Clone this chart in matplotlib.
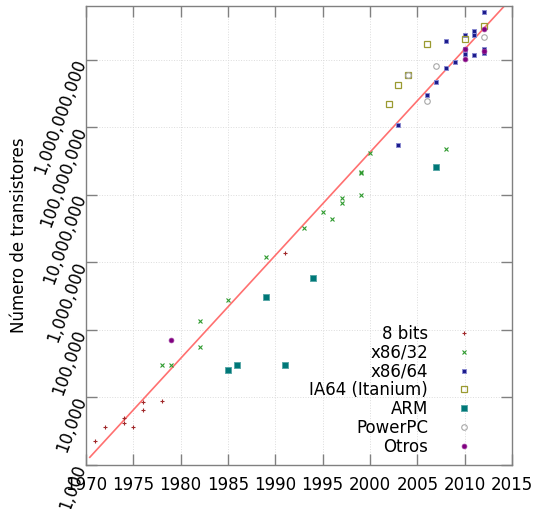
import matplotlib
matplotlib.use("Agg")
import matplotlib.pyplot as plt
from matplotlib.ticker import FixedLocator, FixedFormatter

# ---- data ------------------------------------------------------------------------
bits8_year = [1971, 1972, 1974, 1974, 1975, 1976, 1976, 1978, 1991]
bits8_n = [2300, 3600, 5000, 4200, 3600, 8700, 6600, 9000, 1380000]

x86_32_year = [1978, 1979, 1982, 1982, 1985, 1989, 1993, 1995, 1996, 1997, 1997,
               1999, 1999, 1999, 2000, 2008]
x86_32_n = [30000, 30000, 134000, 55000, 280000, 1200000, 3200000, 5600000, 4400000,
            8900000, 7600000, 22000000, 21000000, 9800000, 42000000, 47000000]

x86_64_year = [2003, 2003, 2006, 2007, 2008, 2008, 2009, 2010, 2010, 2010,
               2011, 2011, 2011, 2012, 2012, 2012]
x86_64_n = [108e6, 55e6, 295e6, 468e6, 760e6, 1.9e9, 912e6, 2.3e9, 1.2e9, 1.45e9,
            2.66e9, 2.3e9, 1.17e9, 5.0e9, 1.43e9, 1.23e9]

ia64_year = [2002, 2003, 2004, 2006, 2010, 2012]
ia64_n = [221e6, 423e6, 600e6, 1.7e9, 2.02e9, 3.19e9]

arm_year = [1985, 1986, 1989, 1991, 1994, 2007]
arm_n = [25400, 30000, 305000, 30000, 590000, 26e6]

ppc_year = [2004, 2006, 2007, 2012]
ppc_n = [600e6, 243e6, 807e6, 2.12e9]

otros_year = [1979, 2010, 2010, 2012, 2012]
otros_n = [70000, 1.45e9, 1.01e9, 2.79e9, 1.35e9]

trend_year = [1970.4, 2014.1]
trend_n = [1.3e3, 6.0e9]

x_ticks = [1970, 1975, 1980, 1985, 1990, 1995, 2000, 2005, 2010, 2015]
y_ticks = [1e3, 1e4, 1e5, 1e6, 1e7, 1e8, 1e9]
y_labels = ["1,000", "10,000", "100,000", "1,000,000", "10,000,000",
            "100,000,000", "1,000,000,000"]

# ---- figure --------------------------------------------------------------------------
fig = plt.figure(figsize=(5.35, 5.09), dpi=100)
ax = fig.add_axes([86 / 535, 44 / 509, 426 / 535, 459 / 509])
ax.set_yscale("log")

ax.plot(trend_year, trend_n, color="#ff7070", lw=1.2, zorder=2)

series = [
    ("8 bits", bits8_year, bits8_n, dict(marker="+", ms=3.5, mew=0.8, color="#a0282a")),
    ("x86/32", x86_32_year, x86_32_n, dict(marker="x", ms=3, mew=0.8, color="#2f9a2f")),
    ("x86/64", x86_64_year, x86_64_n, dict(marker="s", ms=2.8, mew=0.7, mfc="#1c1c8c",
                                           mec="#8a8ad0")),
    ("IA64 (Itanium)", ia64_year, ia64_n, dict(marker="s", ms=4, mew=0.9, mfc="none",
                                               mec="#9a9a30")),
    ("ARM", arm_year, arm_n, dict(marker="s", ms=3.8, mew=0.7, mfc="#007878",
                                  mec="#5aa8a8")),
    ("PowerPC", ppc_year, ppc_n, dict(marker="o", ms=4, mew=0.8, mfc="none",
                                      mec="#a8a8a8")),
    ("Otros", otros_year, otros_n, dict(marker="o", ms=3.5, mew=0.5, mfc="#800080",
                                        mec="#a040a0")),
]
for name, xs, ys, style in series:
    ax.plot(xs, ys, ls="none", label=name, zorder=3, **style)

ax.set_xlim(1970, 2015)
ax.set_ylim(1e3, 6.2e9)
ax.set_xticks(x_ticks)
ax.yaxis.set_major_locator(FixedLocator(y_ticks))
ax.yaxis.set_major_formatter(FixedFormatter(y_labels))
ax.yaxis.set_minor_locator(FixedLocator([]))

ax.tick_params(direction="in", length=8, width=1.0, color="#808080",
               top=True, right=True, labelsize=12)
ax.tick_params(axis="x", pad=8)
for lab in ax.get_yticklabels():
    lab.set_rotation(70)
    lab.set_rotation_mode("anchor")
    lab.set_ha("right")
    lab.set_va("center")

for sp in ax.spines.values():
    sp.set_color("#808080")
    sp.set_linewidth(1.0)

ax.grid(True, which="major", ls=":", lw=0.7, color="#dcdcdc")
ax.set_axisbelow(True)

ax.set_ylabel("Número de transistores", fontsize=12)
ax.yaxis.set_label_coords(-0.135, 0.5)

ax.legend(loc="lower right", bbox_to_anchor=(0.907, 0.02), frameon=False,
          markerfirst=False, fontsize=12, handlelength=1.0, handletextpad=1.66,
          labelspacing=0.05, borderpad=0, borderaxespad=0)

fig.savefig("out.png", dpi=100)
